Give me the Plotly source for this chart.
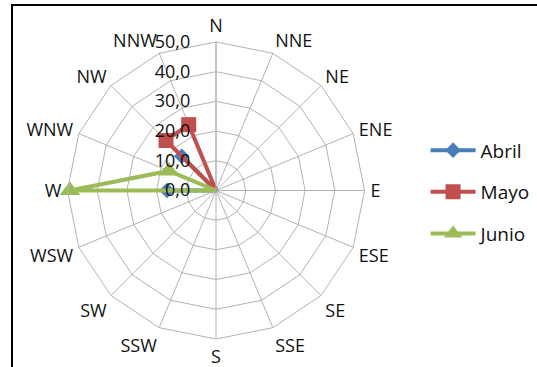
import plotly.graph_objects as go

# Wind directions (clockwise from north)
directions = ["N", "NNE", "NE", "ENE", "E", "ESE", "SE", "SSE",
              "S", "SSW", "SW", "WSW", "W", "WNW", "NW", "NNW"]

# Frequency per direction for each month
abril = [0, 0, 0, 0, 0, 0, 0, 0, 0, 0, 0, 0, 16.5, 0, 16.3, 0]
mayo = [0, 0, 0, 0, 0, 0, 0, 0, 0, 0, 0, 0, 0, 0, 23.8, 24.0]
junio = [0, 0, 0, 0, 0, 0, 0, 0, 0, 0, 0, 0, 49.2, 17.2, 0, 0]

radial_ticks = [0, 10, 20, 30, 40, 50]

series = [
    ("Abril", abril, "#4A7EBB", "diamond", 12),
    ("Mayo", mayo, "#C0504D", "square", 15),
    ("Junio", junio, "#9BBB59", "triangle-up", 18),
]

FONT = "Open Sans"
TEXT = "#111111"

fig = go.Figure()
for name, vals, color, symbol, msize in series:
    fig.add_trace(go.Scatterpolar(
        r=vals + vals[:1],
        theta=directions + directions[:1],
        mode="lines+markers",
        name=name,
        legendgroup=name,
        line=dict(color=color, width=4),
        marker=dict(symbol=symbol, size=msize, color=color),
    ))

fig.update_layout(
    width=537,
    height=367,
    margin=dict(l=0, r=0, t=0, b=0),
    paper_bgcolor="white",
    separators=",.",
    font=dict(family=FONT, size=18, color=TEXT),
    polar=dict(
        domain=dict(x=[0.1257, 0.6788], y=[0.0763, 0.8856]),
        bgcolor="white",
        gridshape="linear",
        angularaxis=dict(
            rotation=90,
            direction="clockwise",
            showline=True,
            linecolor="#b3b3b3",
            linewidth=1,
            gridcolor="#b3b3b3",
            gridwidth=1,
            ticks="outside",
            ticklen=2,
            tickcolor="rgba(0,0,0,0)",
            tickfont=dict(family=FONT, size=18, color=TEXT),
        ),
        radialaxis=dict(
            range=[0, 50],
            tickvals=radial_ticks,
            tickformat=".1f",
            angle=90,
            side="counterclockwise",
            tickangle=90,
            showline=True,
            linecolor="#b3b3b3",
            linewidth=1,
            gridcolor="#b3b3b3",
            gridwidth=1,
            ticks="outside",
            ticklen=19,
            tickcolor="rgba(0,0,0,0)",
            tickfont=dict(family=FONT, size=18, color=TEXT),
        ),
    ),
    legend=dict(
        x=0.7925,
        y=0.476,
        yanchor="middle",
        traceorder="grouped",
        tracegroupgap=14,
        itemwidth=45,
        font=dict(family=FONT, size=19, color=TEXT),
        bgcolor="rgba(0,0,0,0)",
    ),
    shapes=[
        dict(type="rect", xref="paper", yref="paper",
             x0=12 / 537, x1=1.02, y0=-0.05, y1=1 - 5 / 367,
             line=dict(color="black", width=2)),
    ],
)

fig.write_html("out.html")
